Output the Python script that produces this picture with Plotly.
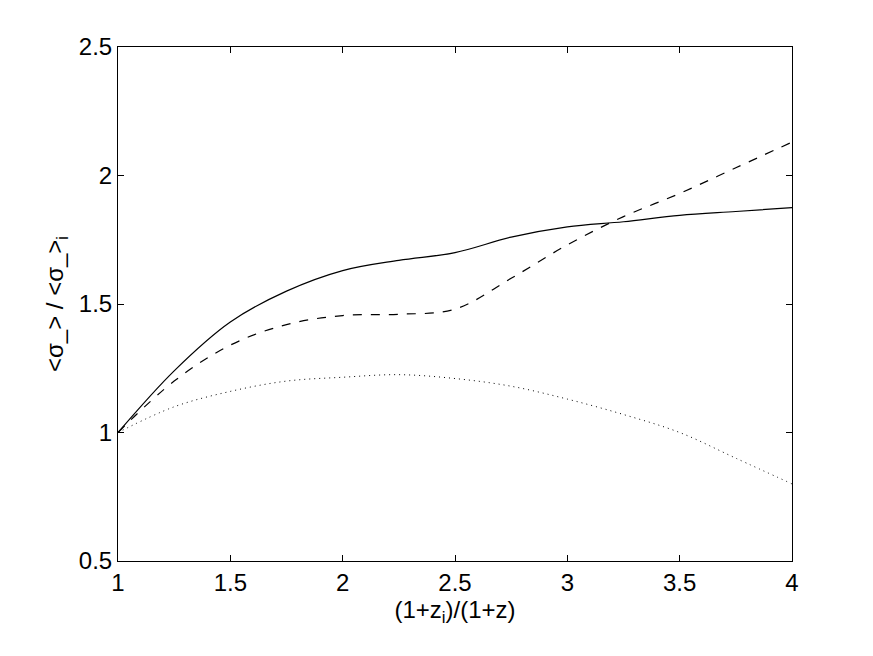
import plotly.graph_objects as go

# values
x_vals = [1.0, 1.25, 1.5, 1.75, 2.0, 2.25, 2.5, 2.75, 3.0, 3.25, 3.5, 3.75, 4.0]
solid = [1.0, 1.24, 1.43, 1.55, 1.63, 1.67, 1.70, 1.76, 1.80, 1.82, 1.845, 1.86, 1.875]
dashed = [1.0, 1.2, 1.34, 1.42, 1.455, 1.46, 1.48, 1.6, 1.73, 1.84, 1.93, 2.03, 2.13]
dotted = [1.0, 1.1, 1.16, 1.2, 1.215, 1.225, 1.21, 1.18, 1.13, 1.07, 1.0, 0.9, 0.8]

fig = go.Figure()
for ys, dash, w in [(solid, "solid", 1.2), (dashed, "dash", 1.2), (dotted, "1px,4px", 1)]:
    fig.add_trace(go.Scatter(x=x_vals, y=ys, mode="lines", line_shape="spline",
                             line=dict(color="black", width=w, dash=dash), showlegend=False))

fig.update_xaxes(showgrid=False, zeroline=False, showline=True, linecolor="black", linewidth=1,
                 mirror="ticks", ticks="inside", ticklen=6, tickcolor="black",
                 tickfont_size=24, range=[1, 4], tickvals=[1, 1.5, 2, 2.5, 3, 3.5, 4],
                 ticktext=["1", "1.5", "2", "2.5", "3", "3.5", "4"],
                 title_text="(1+z<sub>i</sub>)/(1+z)", title_font_size=24, title_standoff=2)
fig.update_yaxes(showgrid=False, zeroline=False, showline=True, linecolor="black", linewidth=1,
                 mirror="ticks", ticks="inside", ticklen=6, tickcolor="black",
                 tickfont_size=24, range=[0.5, 2.5], tickvals=[0.5, 1, 1.5, 2, 2.5],
                 ticktext=["0.5", "1", "1.5", "2", "2.5"],
                 title_text="&lt;σ_&gt; / &lt;σ_&gt;<sub>i</sub>", title_font_size=24, title_standoff=8)
fig.update_layout(width=873, height=656, plot_bgcolor="white", paper_bgcolor="white",
                  font=dict(family="Liberation Sans, Arial", size=24, color="black"),
                  margin=dict(l=110, r=89, t=39, b=103))
fig.write_html("out.html")
